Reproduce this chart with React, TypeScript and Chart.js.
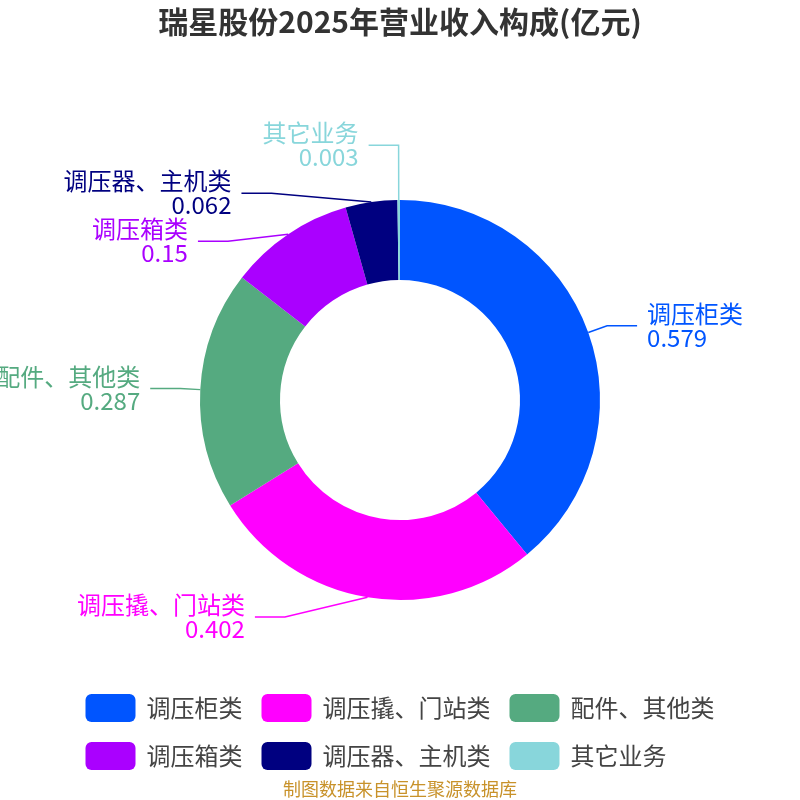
import { useEffect, useRef } from 'react';
import { Chart, registerables, type Plugin } from 'chart.js';

Chart.register(...registerables);

const chartTitle = '瑞星股份2025年营业收入构成(亿元)';
const sourceNote = '制图数据来自恒生聚源数据库';
const categories = ['调压柜类', '调压撬、门站类', '配件、其他类', '调压箱类', '调压器、主机类', '其它业务'];
const revenue = [0.579, 0.402, 0.287, 0.15, 0.062, 0.003];
const colors = ['#0055ff', '#ff00ff', '#55aa80', '#aa00ff', '#000080', '#88d6db'];

const FONT = '"Noto Sans CJK SC", "Noto Sans", sans-serif';

type LabelItem = {
  index: number;
  cx: number;
  cy: number;
  rA: number;
  p0x: number;
  p0y: number;
  px: number;
  py0: number;
  py: number;
  dir: number;
};

// labels outside the ring, with a two-part leader line
const outsideLabels: Plugin<'doughnut'> = {
  id: 'outsideLabels',
  afterDatasetsDraw(chart) {
    const { ctx } = chart;
    const meta = chart.getDatasetMeta(0);
    const len1 = 20;
    const len2 = 30;
    const gap = 10;
    const lineH = 24;
    const h = lineH * 2;

    const items: LabelItem[] = meta.data.map((el: any, index) => {
      const a = (el.startAngle + el.endAngle) / 2;
      const cos = Math.cos(a);
      const sin = Math.sin(a);
      const rA = el.outerRadius + len1;
      return {
        index,
        cx: el.x,
        cy: el.y,
        rA,
        p0x: el.x + el.outerRadius * cos,
        p0y: el.y + el.outerRadius * sin,
        px: el.x + rA * cos,
        py0: el.y + rA * sin,
        py: el.y + rA * sin,
        dir: cos < 0 ? -1 : 1,
      };
    });

    for (const dir of [-1, 1]) {
      const side = items.filter((it) => it.dir === dir).sort((a, b) => a.py0 - b.py0);
      if (!side.length) continue;

      const place = (g: LabelItem[]) => {
        const mean = g.reduce((s, it) => s + it.py0, 0) / g.length;
        const top = mean - ((g.length - 1) * h) / 2;
        g.forEach((it, k) => (it.py = top + k * h));
      };
      const groups = side.map((it) => [it]);
      groups.forEach(place);
      let merged = true;
      while (merged) {
        merged = false;
        for (let k = 0; k < groups.length - 1; k++) {
          const a = groups[k];
          const b = groups[k + 1];
          if (b[0].py - a[a.length - 1].py < h) {
            groups.splice(k, 2, [...a, ...b]);
            place(groups[k]);
            merged = true;
            break;
          }
        }
      }

      const shifted = side.some((it) => Math.abs(it.py - it.py0) > 0.5);
      if (shifted) {
        // put the side's labels on one ellipse, sized by the label farthest from the centre line
        let far = side[0];
        side.forEach((it) => {
          if (Math.abs(it.py - it.cy) > Math.abs(far.py - far.cy)) far = it;
        });
        const fdx = far.px - far.cx;
        const fdy = far.py - far.cy;
        const rB =
          Math.abs(fdx) < far.rA ? Math.abs(fdy) / Math.sqrt(1 - (fdx * fdx) / (far.rA * far.rA)) : far.rA;
        side.forEach((it) => {
          const dy = it.py - it.cy;
          const t = Math.max(0, 1 - (dy * dy) / (rB * rB));
          it.px = it.cx + dir * it.rA * Math.sqrt(t);
        });
      }
    }

    ctx.save();
    ctx.font = `24px ${FONT}`;
    ctx.textBaseline = 'middle';
    ctx.lineWidth = 1.5;
    items.forEach((it) => {
      const color = colors[it.index];
      const endX = it.px + it.dir * len2;
      ctx.strokeStyle = color;
      ctx.beginPath();
      ctx.moveTo(it.p0x, it.p0y);
      ctx.lineTo(it.px, it.py);
      ctx.lineTo(endX, it.py);
      ctx.stroke();

      ctx.fillStyle = color;
      ctx.textAlign = it.dir < 0 ? 'right' : 'left';
      const tx = endX + it.dir * gap;
      ctx.fillText(categories[it.index], tx, it.py - lineH / 2);
      ctx.fillText(String(revenue[it.index]), tx, it.py + lineH / 2);
    });
    ctx.restore();
  },
};

// title, legend and source note
const decorations: Plugin<'doughnut'> = {
  id: 'decorations',
  afterDraw(chart) {
    const { ctx, width } = chart;
    ctx.save();
    ctx.textBaseline = 'middle';
    ctx.textAlign = 'center';
    ctx.fillStyle = '#333';
    ctx.font = `bold 30px ${FONT}`;
    ctx.fillText(chartTitle, width / 2, 22);

    // legend: wrapped rows, left aligned, block centred
    ctx.font = `24px ${FONT}`;
    const boxW = 50;
    const boxH = 28;
    const textGap = 11;
    const itemGap = 19;
    const maxRow = 700;
    const rows: { i: number; w: number }[][] = [[]];
    let rowW = 0;
    categories.forEach((name, i) => {
      const w = boxW + textGap + ctx.measureText(name).width;
      const row = rows[rows.length - 1];
      const need = row.length ? rowW + itemGap + w : w;
      if (row.length && need > maxRow) {
        rows.push([{ i, w }]);
        rowW = w;
      } else {
        row.push({ i, w });
        rowW = need;
      }
    });
    const rowWidths = rows.map((r) => r.reduce((s, it) => s + it.w, 0) + itemGap * (r.length - 1));
    const left = (width - Math.max(...rowWidths)) / 2;
    ctx.textAlign = 'left';
    rows.forEach((row, r) => {
      const y = 708 + r * 48;
      let x = left;
      row.forEach(({ i, w }) => {
        ctx.fillStyle = colors[i];
        ctx.beginPath();
        ctx.roundRect(x, y - boxH / 2, boxW, boxH, 6);
        ctx.fill();
        ctx.fillStyle = '#444';
        ctx.fillText(categories[i], x + boxW + textGap, y);
        x += w + itemGap;
      });
    });

    ctx.textAlign = 'center';
    ctx.fillStyle = '#c8922a';
    ctx.font = `18px ${FONT}`;
    ctx.fillText(sourceNote, width / 2, 789);
    ctx.restore();
  },
};

export default function App() {
  const canvasRef = useRef<HTMLCanvasElement>(null);

  useEffect(() => {
    document.body.style.margin = '0';
    if (!canvasRef.current) return;
    const chart = new Chart(canvasRef.current, {
      type: 'doughnut',
      data: {
        labels: categories,
        datasets: [
          {
            data: revenue,
            backgroundColor: colors,
            borderWidth: 0,
            hoverOffset: 0,
          },
        ],
      },
      options: {
        responsive: false,
        animation: false,
        events: [],
        cutout: '60%',
        layout: { padding: 200 },
        plugins: {
          legend: { display: false },
          tooltip: { enabled: false },
        },
      },
      plugins: [outsideLabels, decorations],
    });
    return () => chart.destroy();
  }, []);

  return (
    <div style={{ width: 800, height: 800, background: '#fff' }}>
      <canvas ref={canvasRef} width={800} height={800} />
    </div>
  );
}
